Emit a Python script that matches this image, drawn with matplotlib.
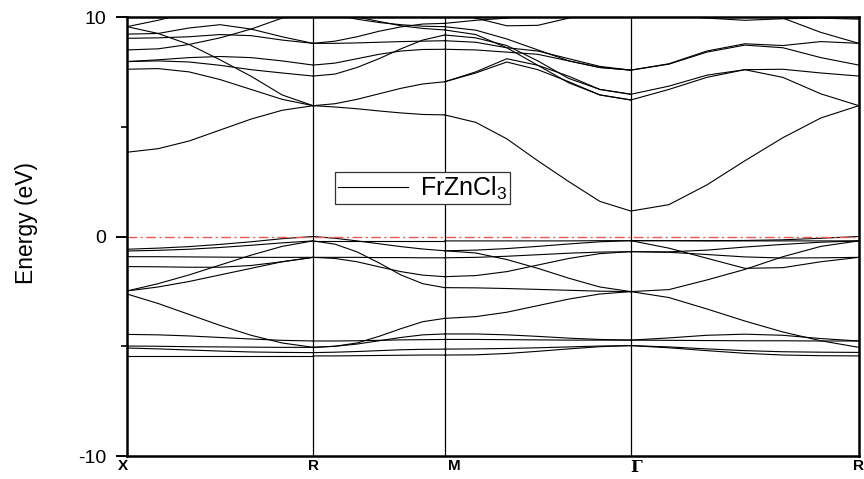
import numpy as np
import matplotlib.pyplot as plt
from matplotlib.transforms import ScaledTranslation

# high-symmetry path of the simple cubic BZ: X-R-M-G-R
k_nodes = [0.0, 0.7071, 1.2071, 1.9142, 2.7802]
k_labels = ['X', 'R', 'M', 'Γ', 'R']

# band energies (eV) at 7 evenly spaced points on each segment
bands_XR = [
    # valence
    [-0.58, -0.53, -0.46, -0.36, -0.24, -0.10, 0.00],
    [-0.66, -0.63, -0.58, -0.50, -0.40, -0.29, -0.20],
    [-0.92, -0.92, -0.93, -0.94, -0.95, -0.95, -0.95],
    [-1.37, -1.38, -1.40, -1.40, -1.32, -1.15, -0.95],
    [-2.48, -2.15, -1.75, -1.30, -0.85, -0.45, -0.20],
    [-2.48, -2.30, -2.05, -1.75, -1.45, -1.15, -0.95],
    [-2.62, -3.05, -3.55, -4.05, -4.50, -4.85, -5.05],
    [-4.46, -4.48, -4.53, -4.60, -4.67, -4.73, -4.76],
    [-4.99, -5.00, -5.02, -5.03, -5.04, -5.05, -5.05],
    [-5.08, -5.12, -5.17, -5.22, -5.26, -5.28, -5.29],
    [-5.44, -5.44, -5.44, -5.44, -5.44, -5.44, -5.44],
    # conduction
    [3.84, 4.00, 4.35, 4.85, 5.35, 5.75, 5.96],
    [9.56, 9.85, 10.20, 10.50, 10.70, 10.80, 10.80],
    [9.56, 9.25, 8.75, 8.05, 7.30, 6.45, 5.96],
    [9.22, 9.25, 9.50, 9.65, 9.45, 9.10, 8.80],
    [9.03, 9.05, 9.10, 9.20, 9.15, 8.95, 8.80],
    [8.50, 8.55, 8.75, 9.05, 9.45, 9.95, 10.30],
    [7.97, 8.05, 8.15, 8.20, 8.15, 8.00, 7.81],
    [7.97, 8.00, 7.95, 7.80, 7.60, 7.45, 7.31],
    [7.62, 7.65, 7.50, 7.15, 6.70, 6.25, 5.96],
]

bands_RM = [
    [0.00, -0.08, -0.20, -0.33, -0.46, -0.57, -0.65],
    [-0.20, -0.20, -0.20, -0.20, -0.20, -0.20, -0.20],
    [-0.20, -0.35, -0.70, -1.20, -1.75, -2.15, -2.33],
    [-0.95, -0.95, -0.95, -0.96, -0.96, -0.97, -0.97],
    [-0.95, -1.00, -1.15, -1.38, -1.60, -1.76, -1.83],
    [-5.05, -5.00, -4.85, -4.55, -4.20, -3.88, -3.73],
    [-4.76, -4.76, -4.75, -4.73, -4.71, -4.70, -4.69],
    [-5.05, -5.00, -4.90, -4.75, -4.60, -4.48, -4.44],
    [-5.29, -5.27, -5.24, -5.20, -5.16, -5.14, -5.13],
    [-5.44, -5.44, -5.43, -5.42, -5.41, -5.40, -5.40],
    [5.96, 5.90, 5.82, 5.72, 5.63, 5.56, 5.54],
    [5.96, 6.05, 6.25, 6.50, 6.75, 6.95, 7.05],
    [7.81, 7.90, 8.10, 8.30, 8.45, 8.52, 8.53],
    [8.80, 8.90, 9.10, 9.35, 9.55, 9.68, 9.71],
    [8.80, 8.80, 8.82, 8.85, 8.88, 8.90, 8.92],
    [7.31, 7.40, 7.70, 8.10, 8.55, 8.95, 9.18],
    [10.30, 10.10, 9.90, 9.75, 9.65, 9.58, 9.56],
    [10.40, 10.20, 10.00, 9.80, 9.60, 9.48, 9.41],
]

bands_MG = [
    [-0.65, -0.62, -0.55, -0.45, -0.34, -0.24, -0.19],
    [-0.20, -0.20, -0.20, -0.20, -0.20, -0.19, -0.19],
    [-0.65, -0.75, -1.05, -1.45, -1.90, -2.30, -2.51],
    [-0.97, -0.95, -0.90, -0.83, -0.76, -0.71, -0.69],
    [-1.83, -1.78, -1.60, -1.30, -1.00, -0.78, -0.69],
    [-2.33, -2.34, -2.37, -2.41, -2.45, -2.49, -2.51],
    [-3.73, -3.65, -3.45, -3.15, -2.85, -2.62, -2.51],
    [-4.44, -4.44, -4.48, -4.55, -4.63, -4.69, -4.72],
    [-4.69, -4.69, -4.70, -4.71, -4.72, -4.72, -4.72],
    [-5.13, -5.12, -5.10, -5.07, -5.03, -4.99, -4.97],
    [-5.40, -5.39, -5.33, -5.23, -5.12, -5.02, -4.97],
    [5.54, 5.20, 4.45, 3.45, 2.50, 1.60, 1.16],
    [7.05, 7.50, 8.10, 7.80, 7.30, 6.70, 6.48],
    [7.05, 7.45, 7.95, 7.60, 7.05, 6.45, 6.22],
    [8.53, 8.50, 8.40, 8.30, 8.00, 7.70, 7.58],
    [8.92, 8.85, 8.60, 8.45, 8.10, 7.75, 7.58],
    [9.18, 9.05, 8.70, 8.00, 7.20, 6.70, 6.48],
    [9.41, 9.20, 8.60, 7.80, 7.00, 6.45, 6.22],
    [9.56, 9.40, 9.00, 8.50, 8.00, 7.70, 7.58],
    [9.71, 9.85, 9.95, 10.20, 10.40, 10.50, 10.50],
    [10.20, 9.95, 9.60, 9.62, 9.95, 10.20, 10.30],
]

bands_GR = [
    [-0.19, -0.19, -0.19, -0.18, -0.15, -0.08, 0.00],
    [-0.19, -0.19, -0.20, -0.20, -0.20, -0.20, -0.20],
    [-2.51, -2.42, -1.98, -1.50, -0.92, -0.45, -0.20],
    [-0.69, -0.72, -0.82, -0.93, -0.98, -0.97, -0.95],
    [-0.19, -0.53, -0.99, -1.45, -1.42, -1.15, -0.95],
    [-0.69, -0.70, -0.62, -0.48, -0.36, -0.26, -0.20],
    [-2.51, -2.78, -3.30, -3.85, -4.35, -4.75, -5.05],
    [-4.72, -4.62, -4.50, -4.45, -4.50, -4.65, -4.76],
    [-4.72, -4.73, -4.74, -4.75, -4.75, -4.76, -4.76],
    [-4.97, -5.03, -5.12, -5.20, -5.25, -5.27, -5.28],
    [-4.97, -5.07, -5.20, -5.32, -5.40, -5.43, -5.44],
    [1.16, 1.45, 2.35, 3.45, 4.50, 5.40, 5.96],
    [6.22, 6.70, 7.25, 7.60, 7.25, 6.50, 5.96],
    [6.48, 6.85, 7.35, 7.60, 7.62, 7.45, 7.31],
    [7.58, 7.87, 8.45, 8.78, 8.70, 8.88, 8.80],
    [7.58, 7.85, 8.40, 8.72, 8.60, 8.15, 7.81],
    [10.20, 10.10, 9.95, 9.85, 9.92, 9.95, 9.90],
    [10.30, 10.30, 10.30, 10.20, 9.95, 9.30, 8.80],
]

segments = [bands_XR, bands_RM, bands_MG, bands_GR]

plt.rcParams['font.family'] = ['Liberation Sans', 'DejaVu Sans']
plt.rcParams['mathtext.fontset'] = 'custom'
plt.rcParams['mathtext.rm'] = 'Liberation Sans'

fig = plt.figure(figsize=(8.64, 4.79), dpi=100)
ax = fig.add_axes([0.147, 0.048, 0.847, 0.9165])

first = True
for i, seg in enumerate(segments):
    k = np.linspace(k_nodes[i], k_nodes[i + 1], len(seg[0]))
    for e in seg:
        ax.plot(k, e, color='black', lw=0.8,
                label='FrZnCl$_\\mathregular{3}$' if first else None)
        first = False

# symmetry points and Fermi level
for kn in k_nodes[1:-1]:
    ax.axvline(kn, color='black', lw=0.9)
ax.axhline(0, color='#ea5a5a', lw=1.0, ls=(0, (7, 2.5, 1.5, 2.5)))

ax.set_xlim(k_nodes[0], k_nodes[-1])
ax.set_ylim(-10, 10)
ax.set_yticks([-10, 0, 10], ['-10', '0', '10'], fontsize=14)
ax.set_yticks([-5, 5], minor=True)
ax.tick_params(axis='y', which='major', direction='out', length=8, width=1.4, pad=7)
ax.tick_params(axis='y', which='minor', direction='out', length=4, width=1.2)

ax.set_xticks(k_nodes, k_labels, fontsize=11, fontweight='bold')
ax.tick_params(axis='x', length=0, pad=2)
for lbl, dx in zip(ax.get_xticklabels(), [-4, 0, 10, 5, 0]):
    lbl.set_transform(lbl.get_transform() + ScaledTranslation(dx / 100, 0, fig.dpi_scale_trans))
ax.get_xticklabels()[3].set_family('DejaVu Serif')
ax.get_xticklabels()[3].set_fontsize(12)

for sp in ax.spines.values():
    sp.set_linewidth(1.8)

fig.text(0.031, 0.534, 'Energy (eV)', rotation=90, ha='center', va='center',
         fontsize=16.5)

leg = ax.legend(loc='upper left', bbox_to_anchor=(335 / 864, 1 - 172 / 479),
                bbox_transform=fig.transFigure, fontsize=18, handlelength=2.8,
                handletextpad=0.5, fancybox=False, borderaxespad=0,
                framealpha=1, borderpad=0.1)
leg.get_frame().set_edgecolor('#333333')
leg.get_frame().set_linewidth(0.9)

fig.savefig('out.png', dpi=100)
